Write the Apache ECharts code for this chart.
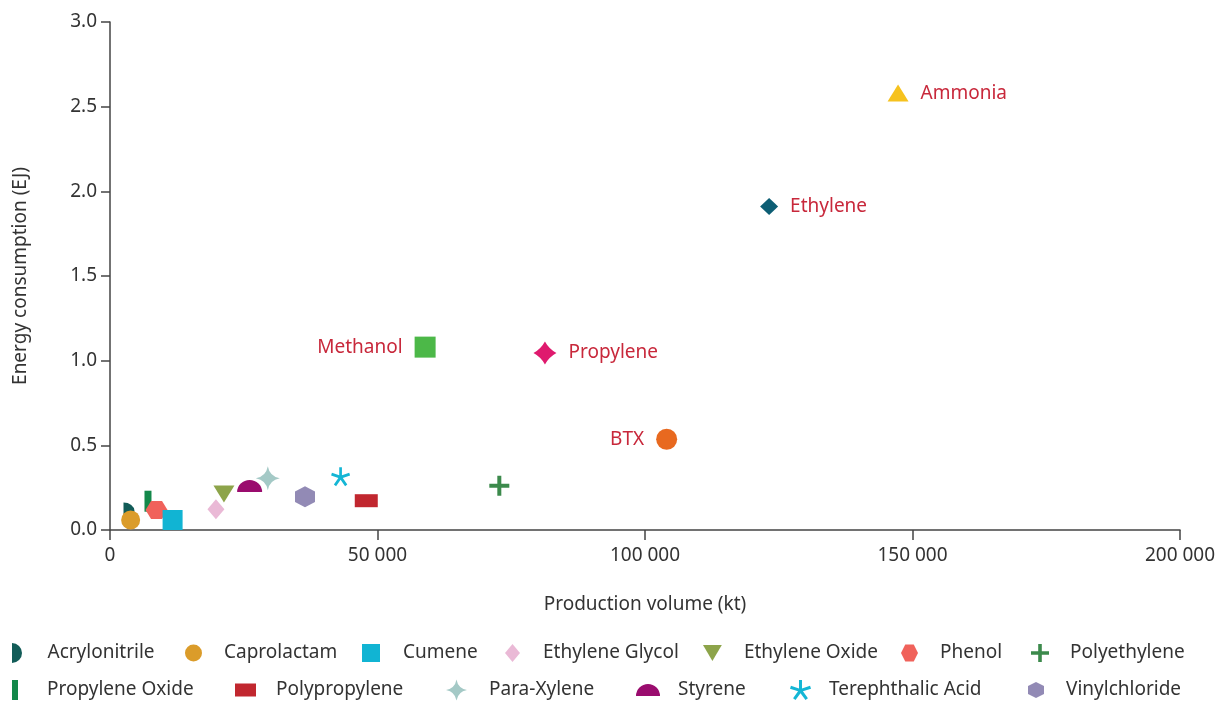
<!DOCTYPE html>
<html>
<head>
<meta charset="utf-8">
<script src="https://cdn.jsdelivr.net/npm/echarts@6/dist/echarts.min.js"></script>
<style>html,body{margin:0;padding:0;background:#fff;}#c{width:1221px;height:701px;}</style>
</head>
<body>
<div id="c"></div>
<script>
// ---- data ----
const legendNames = ['Acrylonitrile','Caprolactam','Cumene','Ethylene Glycol','Ethylene Oxide','Phenol','Polyethylene',
  'Propylene Oxide','Polypropylene','Para-Xylene','Styrene','Terephthalic Acid','Vinylchloride'];
const legendX = [3550, 3860, 11700, 19800, 21300, 8700, 72770, 7100, 47900, 29500, 26100, 43100, 36450];
const legendY = [0.112, 0.059, 0.059, 0.122, 0.212, 0.118, 0.262, 0.17, 0.173, 0.305, 0.26, 0.315, 0.197];

const labeledNames = ['Ammonia','Ethylene','Methanol','Propylene','BTX'];
const labeledX = [147300, 123200, 58900, 81300, 104050];
const labeledY = [2.58, 1.91, 1.08, 1.045, 0.536];

const xTicks = [0, 50000, 100000, 150000, 200000];
const yTicks = [0, 0.5, 1.0, 1.5, 2.0, 2.5, 3.0];

// ---- styles ----
const FONT = 'Noto Sans';
const FS = 19;
const P = {
  D: 'path://M0,0 A10,10 0 0 1 0,20 Z',
  hexH: 'path://M0,10 L5,0 L15,0 L20,10 L15,20 L5,20 Z',
  hexV: 'path://M10,0 L20,5 L20,15 L10,20 L0,15 L0,5 Z',
  plus: 'path://M8,0 H12 V8 H20 V12 H12 V20 H8 V12 H0 V8 H8 Z',
  star4: 'path://M10,0 Q11.5,8.5 20,10 Q11.5,11.5 10,20 Q8.5,11.5 0,10 Q8.5,8.5 10,0 Z',
  halfTop: 'path://M0,10 A10,10 0 0 1 20,10 Z',
  triDown: 'path://M0,0 L20,0 L10,17 Z',
  aster: 'path://M8.6,0 H11.4 V7.9 L19,5.4 L19.9,8.1 L12.3,10.6 L17,17.1 L14.7,18.7 L10,12.3 L5.3,18.7 L3,17.1 L7.7,10.6 L0.1,8.1 L1,5.4 L8.6,7.9 Z',
  diamondC: 'path://M10,0 Q13.5,6.5 20,10 Q13.5,13.5 10,20 Q6.5,13.5 0,10 Q6.5,6.5 10,0 Z'
};
const legendStyle = {
  'Acrylonitrile':   {color:'#125c58', symbol:P.D, size:[11,17], icon:[11,20]},
  'Caprolactam':     {color:'#db9c2a', symbol:'circle', size:19, icon:[17,17]},
  'Cumene':          {color:'#11b4d3', symbol:'rect', size:20, icon:[18,18]},
  'Ethylene Glycol': {color:'#eab9d6', symbol:'diamond', size:[17,20], icon:[15,18]},
  'Ethylene Oxide':  {color:'#8da44a', symbol:P.triDown, size:[21,17], icon:[19,16]},
  'Phenol':          {color:'#f0625b', symbol:P.hexH, size:[22,18], icon:[19,17]},
  'Polyethylene':    {color:'#3c8a4c', symbol:P.plus, size:20, icon:[18,18]},
  'Propylene Oxide': {color:'#13884a', symbol:'rect', size:[7,21], icon:[6,20]},
  'Polypropylene':   {color:'#c1272f', symbol:'rect', size:[23,13], icon:[21,13]},
  'Para-Xylene':     {color:'#a4c9c6', symbol:P.star4, size:24, icon:[21,21]},
  'Styrene':         {color:'#9a0c6e', symbol:P.halfTop, size:[25,12], icon:[24,12]},
  'Terephthalic Acid':{color:'#14b6d5', symbol:P.aster, size:19, icon:[21,21]},
  'Vinylchloride':   {color:'#928ab5', symbol:P.hexV, size:[20,21], icon:[16,19]}
};
const labeledStyle = {
  'Ammonia':   {color:'#f6c21e', symbol:'triangle', size:[21,17], pos:'right'},
  'Ethylene':  {color:'#0d5e74', symbol:'diamond', size:[18,17], pos:'right'},
  'Methanol':  {color:'#4cb848', symbol:'rect', size:21, pos:'left'},
  'Propylene': {color:'#df1a6e', symbol:P.diamondC, size:23, pos:'right'},
  'BTX':       {color:'#e8691f', symbol:'circle', size:21, pos:'left'}
};
// legend placement (icon left edge, row center y)
const legendLeft = [12, 185, 362, 505, 703, 901, 1031, 12, 235, 446, 636, 790, 1028];
const legendRowY = [653, 653, 653, 653, 653, 653, 653, 690, 690, 690, 690, 690, 690];
const textGap = [25, 22, 23, 23, 22, 21, 21, 29, 20, 22, 18, 18, 22];

// draw order (bottom to top)
const drawOrder = ['Acrylonitrile','Propylene Oxide','Caprolactam','Phenol','Cumene','Ethylene Glycol','Ethylene Oxide',
  'Styrene','Para-Xylene','Vinylchloride','Terephthalic Acid','Polypropylene','Polyethylene'];

const series = drawOrder.map(function(name){
  const i = legendNames.indexOf(name);
  const s = legendStyle[name];
  return {
    name: name, type:'scatter', symbol: s.symbol, symbolSize: s.size,
    itemStyle:{color:s.color, opacity:1},
    data:[[legendX[i], legendY[i]]],
    emphasis:{disabled:true}
  };
});
series.push({
  name:'labeled', type:'scatter', itemStyle:{opacity:1},
  data: labeledNames.map(function(n,i){
    const s = labeledStyle[n];
    return {
      name:n, value:[labeledX[i], labeledY[i]], symbol:s.symbol, symbolSize:s.size,
      itemStyle:{color:s.color, opacity:1},
      label:{show:true, position:s.pos, formatter:n, distance:12, color:'#c8283b', fontSize:FS, fontFamily:FONT}
    };
  }),
  emphasis:{disabled:true}
});

const legends = legendNames.map(function(name,i){
  const s = legendStyle[name];
  return {
    data:[{name:name, icon:s.symbol, itemStyle:{color:s.color, opacity:1}}],
    left: legendLeft[i], top: legendRowY[i] - 11,
    itemWidth: s.icon[0], itemHeight: s.icon[1], padding:0,
    selectedMode:false,
    textStyle:{color:'#333', fontSize:FS, fontFamily:FONT, padding:[0,0,0,textGap[i]-5], height:22, lineHeight:22}
  };
});

const chart = echarts.init(document.getElementById('c'));
chart.setOption({
  backgroundColor:'#fff',
  animation:false,
  grid:{left:110, right:41, top:22, bottom:171, containLabel:false},
  xAxis:{
    type:'value', min:xTicks[0], max:xTicks[xTicks.length-1], interval:xTicks[1]-xTicks[0],
    name:'Production volume (kt)', nameLocation:'middle', nameGap:65,
    nameTextStyle:{color:'#333', fontSize:FS, fontFamily:FONT},
    axisLine:{show:true, lineStyle:{color:'#444', width:1.5}},
    axisTick:{show:true, length:10, lineStyle:{color:'#444', width:1.5}},
    axisLabel:{color:'#333', fontSize:FS, fontFamily:FONT, margin:16,
      formatter:function(v){ return v===0 ? '0' : String(v).replace(/\B(?=(\d{3})+(?!\d))/g,' '); }},
    splitLine:{show:false}
  },
  yAxis:{
    type:'value', min:yTicks[0], max:yTicks[yTicks.length-1], interval:yTicks[1]-yTicks[0],
    name:'Energy consumption (EJ)', nameLocation:'middle', nameGap:80,
    nameTextStyle:{color:'#333', fontSize:FS, fontFamily:FONT},
    axisLine:{show:true, lineStyle:{color:'#444', width:1.5}},
    axisTick:{show:true, length:9, lineStyle:{color:'#444', width:1.5}},
    axisLabel:{color:'#333', fontSize:FS, fontFamily:FONT, margin:13, formatter:function(v){return v.toFixed(1);}},
    splitLine:{show:false}
  },
  legend: legends,
  series: series
});
</script>
</body>
</html>
